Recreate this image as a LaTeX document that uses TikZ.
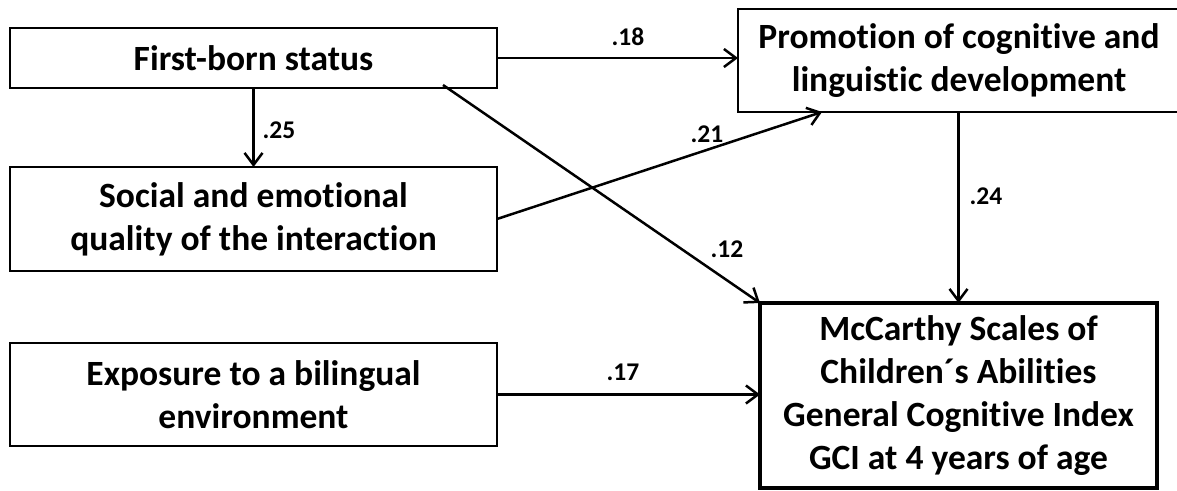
\documentclass[tikz,border=0pt]{standalone}
\usepackage{fontspec}
\setmainfont[RawFeature={-liga;-clig;-dlig}]{Carlito}
\usetikzlibrary{arrows.meta}
\begin{document}
\begin{tikzpicture}[x=1pt,y=-1pt,
  box/.style={draw,line width=2.6pt,inner sep=0pt,outer sep=0pt,align=center,
    font=\fontsize{35.5}{43}\selectfont\bfseries},
  outcome/.style={box,line width=3.6pt},
  path/.style={line width=2.5pt,-{Straight Barb[length=12pt,width=18pt,line width=2.5pt]}},
  coef/.style={font=\fontsize{25.5}{29}\selectfont\bfseries,inner sep=0pt}]
\useasboundingbox (0,0) rectangle (1177,490);

% predictor boxes on the left
\node[box,minimum width=487pt,minimum height=60pt] (first) at (253.5,58) {First-born status};
\node[box,minimum width=487pt,minimum height=104pt] (social) at (253.5,219)
  {Social and emotional\\quality of the interaction};
\node[box,minimum width=487pt,minimum height=103pt] (bilingual) at (253.5,394.5)
  {Exposure to a bilingual\\environment};

% mediator and outcome on the right
\node[box,minimum width=442pt,minimum height=103pt] (promo) at (959,60.5)
  {Promotion of cognitive and\\linguistic development};
\node[outcome,minimum width=397pt,minimum height=185pt] (gci) at (958.5,395.5)
  {McCarthy Scales of\\Children´s Abilities\\General Cognitive Index\\GCI at 4 years of age};

% paths
\coordinate (fbstart) at ([xshift=-54pt,yshift=3pt]first.south east);
\coordinate (promin) at ([xshift=84pt]promo.south west);
\draw[path] (first.east) -- (first.east -| promo.west);
\draw[path] (first.south) -- (social.north);
\draw[path] (social.east) -- (promin);
\draw[path] (fbstart) -- (gci.north west);
\draw[path] (gci.north |- promo.south) -- (gci.north);
\draw[path] (bilingual.east) -- (bilingual.east -| gci.west);

% path coefficients
\node[coef] (c18) at (628,37) {.18};
\node[coef] (c25) at (279,130) {.25};
\node[coef] (c21) at (707,134) {.21};
\node[coef] (c12) at (727,249) {.12};
\node[coef] (c24) at (986,196) {.24};
\node[coef] (c17) at (623,372) {.17};
\end{tikzpicture}
\end{document}
